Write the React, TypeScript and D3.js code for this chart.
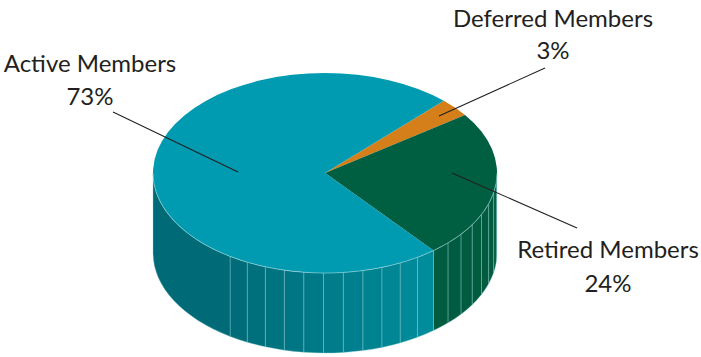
import React from "react";
import * as d3 from "d3";

const categories = ["Deferred Members", "Retired Members", "Active Members"];
const values = [3, 24, 73];
const percentLabels = ["3%", "24%", "73%"];

const topColors = ["#d57f1b", "#005e41", "#009bb0"];

const W = 701, H = 357;
const cx = 325, cy = 173, rx = 172, ry = 100, depth = 80;
const startDeg = 43.7;

// label layout
const labelLayout = [
  { x: 553, y1: 27, y2: 59, lx1: 545, ly1: 68, lx2: 439, ly2: 116 },
  { x: 608, y1: 258, y2: 292, lx1: 577, ly1: 228, lx2: 452, ly2: 173 },
  { x: 90, y1: 72, y2: 105, lx1: 113, ly1: 112, lx2: 238, ly2: 172 },
];

const pt = (theta: number, dy = 0): [number, number] => [
  cx + rx * Math.cos(theta),
  cy + ry * Math.sin(theta) + dy,
];

function topPath(a0: number, a1: number) {
  const t0 = a0 - Math.PI / 2, t1 = a1 - Math.PI / 2;
  const p0 = pt(t0), p1 = pt(t1);
  const large = t1 - t0 > Math.PI ? 1 : 0;
  return `M${cx},${cy}L${p0[0]},${p0[1]}A${rx},${ry} 0 ${large} 1 ${p1[0]},${p1[1]}Z`;
}

function sidePath(t0: number, t1: number) {
  const p0 = pt(t0), p1 = pt(t1), q1 = pt(t1, depth), q0 = pt(t0, depth);
  return `M${p0[0]},${p0[1]}A${rx},${ry} 0 0 1 ${p1[0]},${p1[1]}L${q1[0]},${q1[1]}A${rx},${ry} 0 0 0 ${q0[0]},${q0[1]}Z`;
}

export default function App() {
  const pie = d3
    .pie<number>()
    .sort(null)
    .value((d) => d)
    .startAngle((startDeg * Math.PI) / 180)
    .endAngle((startDeg * Math.PI) / 180 + 2 * Math.PI);
  const arcs = pie(values);

  const activeShade = d3.scaleLinear<string>()
    .domain([125, 51])
    .range(["#006a77", "#008e9d"])
    .interpolate(d3.interpolateRgb)
    .clamp(true);
  const retiredShade = d3.scaleLinear<string>()
    .domain([51, 0])
    .range(["#005c40", "#005a3e"])
    .clamp(true);

  const sides: { d: string; fill: string; line: boolean }[] = [];
  const step = (6.6 * Math.PI) / 180;
  arcs.forEach((a, i) => {
    let t0 = a.startAngle - Math.PI / 2;
    let t1 = a.endAngle - Math.PI / 2;
    // normalize into visible front range [0, PI]
    const ranges: [number, number][] = [];
    for (const off of [-2 * Math.PI, 0, 2 * Math.PI]) {
      const s = Math.max(t0 + off, 0), e = Math.min(t1 + off, Math.PI);
      if (e > s) ranges.push([s, e]);
    }
    ranges.forEach(([s, e]) => {
      if (i === 2) {
        // active: facets starting from its start boundary
        let cur = s;
        const flatStart = (125 * Math.PI) / 180;
        while (cur < e - 1e-6) {
          let nxt = cur + step;
          if (nxt > flatStart - 0.02) nxt = e;
          nxt = Math.min(nxt, e);
          const deg = (((cur + nxt) / 2) * 180) / Math.PI;
          sides.push({ d: sidePath(cur, nxt), fill: cur >= flatStart - 0.03 ? "#006a77" : activeShade(deg), line: true });
          cur = nxt;
        }
      } else {
        let cur = e;
        while (cur > s + 1e-6) {
          const prv = Math.max(cur - step, s);
          const deg = (((cur + prv) / 2) * 180) / Math.PI;
          sides.push({ d: sidePath(prv, cur), fill: i === 1 ? retiredShade(deg) : topColors[i], line: true });
          cur = prv;
        }
      }
    });
  });

  const rimP0 = pt(0), rimP1 = pt(Math.PI);

  return (
    <svg width={W} height={H} style={{ position: "fixed", left: 0, top: 0, background: "#fff" }}>
      <g>
        {sides.map((s, i) => (
          <path key={i} d={s.d} fill={s.fill} stroke="#8fd0d6" strokeOpacity={0.45} strokeWidth={0.8} />
        ))}
      </g>
      <g>
        {arcs.map((a, i) => (
          <path key={i} d={topPath(a.startAngle, a.endAngle)} fill={topColors[i]} />
        ))}
      </g>
      <path
        d={`M${rimP0[0]},${rimP0[1]}A${rx},${ry} 0 0 1 ${rimP1[0]},${rimP1[1]}`}
        fill="none"
        stroke="#a8dde2"
        strokeOpacity={0.6}
        strokeWidth={0.8}
      />
      <g fontFamily="Lato, 'Open Sans', sans-serif" fontSize={24} fill="#231f20" textAnchor="middle">
        {categories.map((c, i) => {
          const L = labelLayout[i];
          return (
            <g key={c}>
              <line x1={L.lx1} y1={L.ly1} x2={L.lx2} y2={L.ly2} stroke="#231f20" strokeWidth={1.1} />
              <text x={L.x} y={L.y1}>{c}</text>
              <text x={L.x} y={L.y2}>{percentLabels[i]}</text>
            </g>
          );
        })}
      </g>
    </svg>
  );
}
